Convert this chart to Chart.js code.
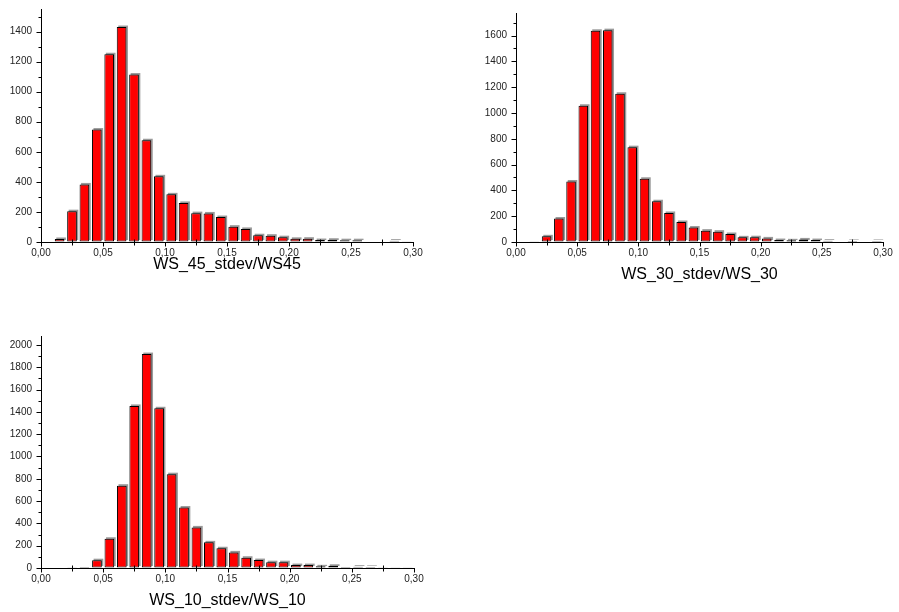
<!DOCTYPE html>
<html>
<head>
<meta charset="utf-8">
<script src="https://cdn.jsdelivr.net/npm/chart.js@4.4.1/dist/chart.umd.min.js"></script>
<style>
  body { margin: 0; background: #fff; width: 899px; height: 612px; overflow: hidden; position: relative; }
  canvas { position: absolute; }
</style>
</head>
<body>
<canvas id="c45" width="440" height="296" style="left:0;top:-6px"></canvas>
<canvas id="c30" width="429" height="302" style="left:470px;top:-2px"></canvas>
<canvas id="c10" width="440" height="292" style="left:0;top:320px"></canvas>
<script>
// histogram bins of width 0,01 (centres)
const binCenters = [0.005, 0.015, 0.025, 0.035, 0.045, 0.055, 0.065, 0.075, 0.085, 0.095,
  0.105, 0.115, 0.125, 0.135, 0.145, 0.155, 0.165, 0.175, 0.185, 0.195,
  0.205, 0.215, 0.225, 0.235, 0.245, 0.255, 0.265, 0.275, 0.285, 0.295];

// counts
const ws45 = [0, 20, 205, 383, 748, 1249, 1430, 1114, 677, 437, 317, 260, 192, 190, 166,
  102, 87, 45, 42, 32, 21, 22, 13, 15, 12, 12, 3, 3, 9, 2];
const ws30 = [0, 2, 44, 182, 469, 1056, 1637, 1642, 1149, 735, 490, 316, 225, 155, 112,
  88, 80, 62, 36, 37, 28, 15, 13, 20, 15, 10, 3, 8, 4, 8];
const ws10 = [0, 0, 2, 8, 70, 262, 738, 1453, 1918, 1432, 841, 542, 364, 230, 177,
  140, 92, 71, 52, 52, 26, 26, 15, 20, 8, 12, 10, 3, 2, 2];

// tick labels
const xTicks = [0, 0.05, 0.10, 0.15, 0.20, 0.25, 0.30];
const xTickLabels = ['0,00', '0,05', '0,10', '0,15', '0,20', '0,25', '0,30'];
const yTicks45 = [0, 200, 400, 600, 800, 1000, 1200, 1400];
const yTicks30 = [0, 200, 400, 600, 800, 1000, 1200, 1400, 1600];
const yTicks10 = [0, 200, 400, 600, 800, 1000, 1200, 1400, 1600, 1800, 2000];

const FONT = "'Liberation Sans', Arial, sans-serif";

// gray drop shadow behind each bar (Origin look)
const barShadow = {
  id: 'barShadow',
  beforeDatasetsDraw(chart) {
    const ctx = chart.ctx;
    ctx.save();
    ctx.fillStyle = '#9a9a9a';
    chart.getDatasetMeta(0).data.forEach(bar => {
      if (bar.base - bar.y < 0.5) return;
      ctx.fillRect(bar.x - bar.width / 2 + 1.5, bar.y - 1.5, bar.width, bar.base - bar.y);
    });
    ctx.restore();
  }
};

// major + minor tick marks like the original
const originTicks = {
  id: 'originTicks',
  afterDraw(chart) {
    const ctx = chart.ctx;
    const x = chart.scales.x, y = chart.scales.y;
    const bottom = Math.round(chart.chartArea.bottom) + 0.5;
    const left = Math.round(chart.chartArea.left) + 0.5;
    ctx.save();
    ctx.strokeStyle = '#000';
    ctx.lineWidth = 1;
    ctx.beginPath();
    for (let k = 0; k <= 12; k++) {
      const px = Math.round(x.getPixelForValue(k * 0.025)) + 0.5;
      if (k % 2 === 0) {
        ctx.moveTo(px, bottom); ctx.lineTo(px, bottom + 4);
      } else {
        ctx.moveTo(px, bottom - 3); ctx.lineTo(px, bottom + 3);
      }
    }
    for (let v = 0; v <= y.max; v += 100) {
      const py = Math.round(y.getPixelForValue(v)) + 0.5;
      const len = v % 200 === 0 ? 5 : 3;
      ctx.moveTo(left - len, py); ctx.lineTo(left, py);
    }
    ctx.stroke();
    ctx.restore();
  }
};

function makeHist(id, values, yTicks, title, cfg) {
  const data = binCenters.map((c, i) => ({ x: c, y: values[i] }));
  return new Chart(document.getElementById(id), {
    type: 'bar',
    data: {
      datasets: [{
        data: data,
        backgroundColor: '#ff0000',
        borderColor: '#000',
        borderWidth: 1,
        borderSkipped: false,
        barPercentage: 0.78,
        categoryPercentage: 1
      }]
    },
    options: {
      responsive: false,
      animation: false,
      devicePixelRatio: 1,
      layout: { padding: cfg.padding },
      plugins: { legend: { display: false }, tooltip: { enabled: false } },
      scales: {
        x: {
          type: 'linear',
          min: 0,
          max: 0.3,
          offset: false,
          grid: { drawOnChartArea: false, drawTicks: false },
          border: { display: true, color: '#000', width: 1 },
          afterBuildTicks: s => { s.ticks = xTicks.map(v => ({ value: v })); },
          ticks: {
            autoSkip: false,
            maxRotation: 0,
            padding: 5,
            color: '#222',
            font: { family: FONT, size: 10 },
            callback: (v, i) => xTickLabels[i]
          },
          title: {
            display: true,
            text: title,
            color: '#000',
            font: { family: FONT, size: 16, lineHeight: 1 },
            padding: { top: 0, bottom: cfg.titlePad }
          },
          afterFit: s => { s.height = cfg.xHeight; }
        },
        y: {
          min: 0,
          max: cfg.yMax,
          grid: { drawOnChartArea: false, drawTicks: false },
          border: { display: true, color: '#000', width: 1 },
          afterBuildTicks: s => { s.ticks = yTicks.map(v => ({ value: v })); },
          ticks: {
            padding: 9,
            color: '#222',
            font: { family: FONT, size: 10 },
            callback: v => String(v)
          },
          afterFit: s => { s.width = cfg.yWidth; }
        }
      }
    },
    plugins: [barShadow, originTicks]
  });
}

makeHist('c45', ws45, yTicks45, 'WS_45_stdev/WS45', {
  yMax: 1550, yWidth: 41, xHeight: 48, titlePad: 17,
  padding: { top: 0, right: 27, bottom: 0, left: 0 }
});
makeHist('c30', ws30, yTicks30, 'WS_30_stdev/WS_30', {
  yMax: 1775, yWidth: 46, xHeight: 58, titlePad: 17,
  padding: { top: 0, right: 16, bottom: 0, left: 0 }
});
makeHist('c10', ws10, yTicks10, 'WS_10_stdev/WS_10', {
  yMax: 2080, yWidth: 41, xHeight: 44, titlePad: 3,
  padding: { top: 16, right: 26, bottom: 0, left: 0 }
});
</script>
</body>
</html>
